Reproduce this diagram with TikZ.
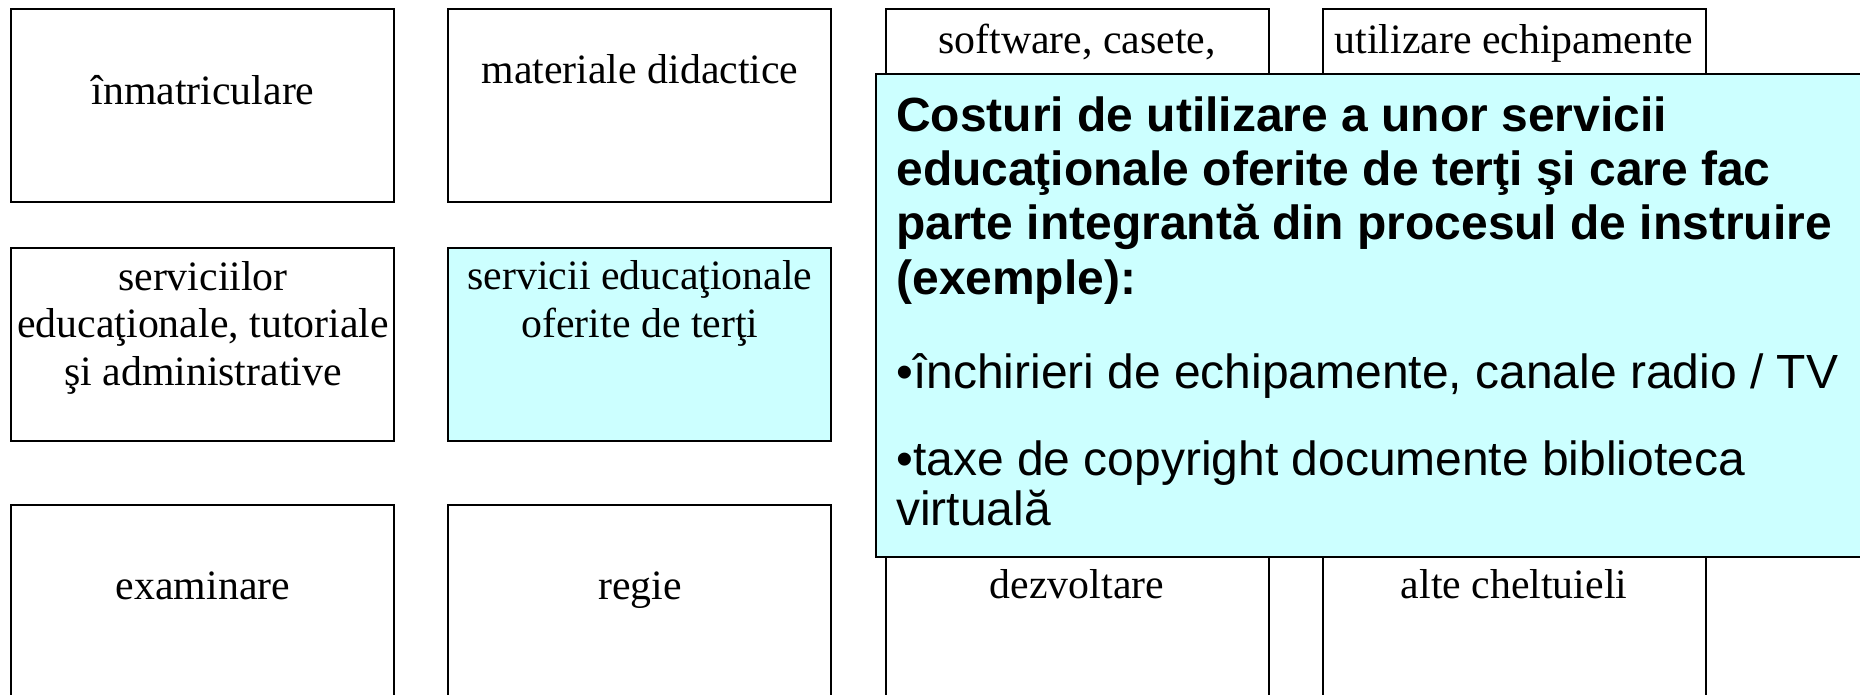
\documentclass[tikz,border=0pt]{standalone}
\usepackage{fontspec}
\setmainfont{Liberation Serif}
\newfontfamily\notefont{Liberation Sans}
\definecolor{paleCyan}{RGB}{204,255,255}

\begin{document}
\begin{tikzpicture}
[x=0.02cm,y=-0.02cm,
  cellDecorate/.style={shape=rectangle,draw,line width=0.8pt,anchor=north west,
    inner sep=0pt,outer sep=0pt,minimum width=7.66cm,minimum height=3.86cm},%
  labelDecorate/.style={anchor=base,align=center,inner sep=0pt,
    font=\fontsize{23.8}{27}\selectfont},%
  noteDecorate/.style={shape=rectangle,draw,line width=1.1pt,fill=paleCyan,
    anchor=north west,inner sep=0pt,minimum width=20cm,minimum height=9.66cm},%
  noteText/.style={anchor=base west,align=left,inner sep=0pt}]
\useasboundingbox (0,0) rectangle (1860,694);
%% cost boxes
\foreach \boxname/\x/\y in {inm/11/9, mat/448/9, soft/886/9, util/1323/9,
  serv/11/248, exam/11/505, regie/448/505, dezv/886/505, alte/1323/505} {
  \node (\boxname) at (\x,\y) [cellDecorate] {};
}
\node (terti) at (448,248) [cellDecorate,fill=paleCyan] {};
%% note over the right columns
\node (note) at (875,73) [noteDecorate] {};
%% box labels (y is the baseline of the last line)
\foreach \labelname/\x/\y/\txt in {inmL/203/104/{înmatriculare},
  matL/640/83/{materiale didactice}, softL/1077/53/{software, casete,},
  utilL/1514/53/{utilizare echipamente},
  servL/203/385/{serviciilor\\educaţionale, tutoriale\\şi administrative},
  tertiL/640/337/{servicii educaţionale\\oferite de terţi},
  examL/203/599/{examinare}, regieL/640/599/{regie},
  dezvL/1077/598/{dezvoltare}, alteL/1514/598/{alte cheltuieli}} {
  \node (\labelname) at (\x,\y) [labelDecorate] {\txt};
}
%% note text
\node (noteHead) at (896,294) [noteText,font=\notefont\bfseries\fontsize{27.3}{30.9}\selectfont]
  {Costuri de utilizare a unor servicii\\educaţionale oferite de terţi şi care fac\\parte integrantă din procesul de instruire\\(exemple):};
\node (noteRent) at (896,388) [noteText,font=\notefont\fontsize{27.3}{30.9}\selectfont]
  {•închirieri de echipamente, canale radio / TV};
\node (noteCopy) at (896,525) [noteText,font=\notefont\fontsize{27.3}{28.4}\selectfont]
  {•taxe de copyright documente biblioteca\\virtuală};
\end{tikzpicture}
\end{document}
